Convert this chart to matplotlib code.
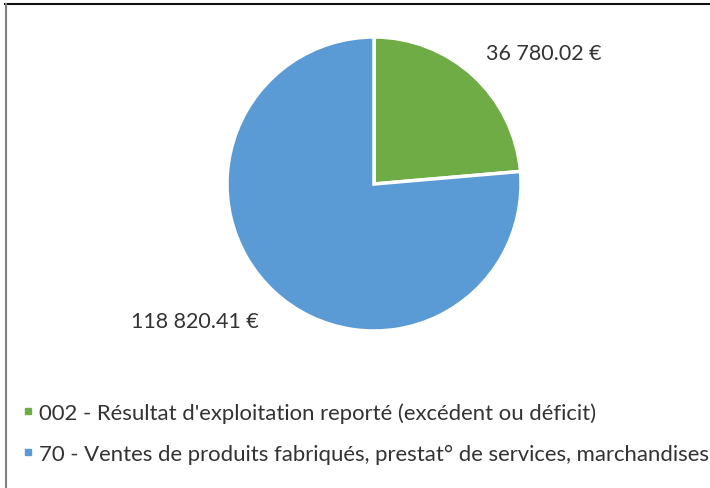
import matplotlib
matplotlib.use("Agg")
import matplotlib.pyplot as plt
from matplotlib.lines import Line2D

categories = ["002 - Résultat d'exploitation reporté (excédent ou déficit)",
              "70 - Ventes de produits fabriqués, prestat° de services, marchandises"]
values = [36780.02, 118820.41]
colors = ["#6FAC46", "#5B9BD5"]

plt.rcParams['font.family'] = ['Lato', 'DejaVu Sans']

W, H = 710, 489
fig = plt.figure(figsize=(W/100, H/100), dpi=100)
ax = fig.add_axes([0, 0, 1, 1])

cx, cy, r = 374, H - 185, 147
wedges, _ = ax.pie(values, colors=colors, startangle=90, counterclock=False,
                   center=(cx, cy), radius=r, frame=True,
                   wedgeprops=dict(edgecolor='white', linewidth=2.5))
ax.set_xlim(0, W)
ax.set_ylim(0, H)
ax.set_aspect('equal')
ax.axis('off')

def fmt(v):
    s = f"{v:,.2f}".replace(",", " ")
    return s + " €"

ax.text(486, H - 54, fmt(values[0]), fontsize=15.5, color='#333333', va='center', ha='left')
ax.text(131, H - 322, fmt(values[1]), fontsize=15.5, color='#333333', va='center', ha='left')

# legend
handles = [Line2D([0], [0], marker='s', color='none', markerfacecolor=c,
                  markeredgecolor=c, markersize=5) for c in colors]
fig.legend(handles, categories, loc='center left', bbox_to_anchor=(22/W, 1 - 434/H),
           frameon=False, fontsize=15.9, handlelength=0.5, handletextpad=0.25,
           labelspacing=0.92, borderaxespad=0, borderpad=0, labelcolor='#333333')

# chart border (top and left visible)
ax.plot([5, W], [H - 4.5, H - 4.5], color='#111111', lw=1.5, clip_on=False)
ax.plot([6, 6], [0, H - 4.5], color='#808080', lw=1.5, clip_on=False)

fig.savefig("out.png", dpi=100)
